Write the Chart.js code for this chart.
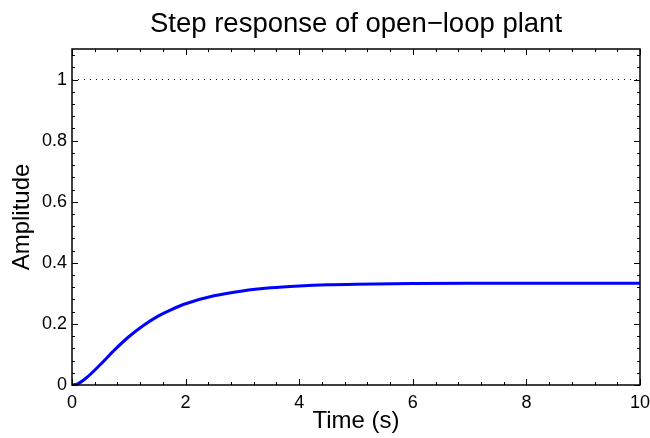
<!DOCTYPE html>
<html>
<head>
<meta charset="utf-8">
<script src="https://cdn.jsdelivr.net/npm/chart.js@4"></script>
<style>
    body { margin: 0; background: #fff; }
    canvas { display: block; }
</style>
</head>
<body>
<canvas id="step-chart" width="650" height="438"></canvas>
<script>
// Values
const timeValues = [0, 0.1, 0.25, 0.5, 0.75, 1, 1.25, 1.5, 1.75, 2, 2.5, 3, 3.5, 4, 4.5, 5, 6, 7, 8, 9, 10];
const amplitudeValues = [0, 0.004, 0.023, 0.067, 0.115, 0.158, 0.194, 0.224, 0.247, 0.266, 0.292, 0.308, 0.318, 0.324, 0.328, 0.330, 0.332, 0.333, 0.333, 0.333, 0.333];
const referenceTimes = [0, 10];
const referenceLevel = [1, 1];
const xTickValues = [0, 2, 4, 6, 8, 10];
const yTickValues = [0, 0.2, 0.4, 0.6, 0.8, 1];
const xMinorStep = 0.4;
const yMinorStep = 0.04;

const chartTitle = 'Step response of open\u2212loop plant';
const xAxisLabel = 'Time (s)';
const yAxisLabel = 'Amplitude';

const FONT = '"Liberation Sans", Arial, Helvetica, sans-serif';
Chart.defaults.font.family = FONT;
Chart.defaults.color = '#000';

// Box, inward ticks, title and axis labels in MATLAB style
const matlabFrame = {
    id: 'matlabFrame',
    afterDraw(chart) {
        const ctx = chart.ctx;
        const area = chart.chartArea;
        const xs = chart.scales.x;
        const ys = chart.scales.y;

        ctx.save();
        ctx.strokeStyle = '#000';
        ctx.lineWidth = 1;

        // minor + major ticks on x (bottom and top)
        for (let v = 0; v <= 10.0001; v += xMinorStep) {
            const px = Math.round(xs.getPixelForValue(v)) + 0.5;
            const isMajor = xTickValues.some(t => Math.abs(t - v) < 1e-6);
            const len = isMajor ? 6 : 3;
            ctx.beginPath();
            ctx.moveTo(px, area.bottom);
            ctx.lineTo(px, area.bottom - len);
            ctx.moveTo(px, area.top);
            ctx.lineTo(px, area.top + len);
            ctx.stroke();
        }
        // minor + major ticks on y (left and right)
        for (let v = 0; v <= 1.1001; v += yMinorStep) {
            const py = Math.round(ys.getPixelForValue(v)) + 0.5;
            const isMajor = yTickValues.some(t => Math.abs(t - v) < 1e-6);
            const len = isMajor ? 6 : 3;
            ctx.beginPath();
            ctx.moveTo(area.left, py);
            ctx.lineTo(area.left + len, py);
            ctx.moveTo(area.right, py);
            ctx.lineTo(area.right - len, py);
            ctx.stroke();
        }

        // frame
        ctx.lineWidth = 1.5;
        ctx.strokeRect(area.left, area.top, area.right - area.left, area.bottom - area.top);

        // title
        const cx = (area.left + area.right) / 2;
        ctx.fillStyle = '#000';
        ctx.textAlign = 'center';
        ctx.textBaseline = 'middle';
        ctx.font = '27.5px ' + FONT;
        ctx.fillText(chartTitle, cx, 24);

        // x label
        ctx.font = '24px ' + FONT;
        ctx.fillText(xAxisLabel, cx, 421);

        // y label
        ctx.translate(22, (area.top + area.bottom) / 2);
        ctx.rotate(-Math.PI / 2);
        ctx.fillText(yAxisLabel, 0, 0);
        ctx.restore();
    }
};

const ctx = document.getElementById('step-chart').getContext('2d');

new Chart(ctx, {
    type: 'line',
    data: {
        datasets: [
            {
                label: 'Step response',
                data: timeValues.map((t, i) => ({ x: t, y: amplitudeValues[i] })),
                borderColor: '#0000ff',
                borderWidth: 3,
                pointRadius: 0,
                cubicInterpolationMode: 'monotone',
                fill: false
            },
            {
                label: 'Final value',
                data: referenceTimes.map((t, i) => ({ x: t, y: referenceLevel[i] })),
                borderColor: '#000',
                borderWidth: 1,
                borderDash: [1, 5],
                pointRadius: 0,
                fill: false
            }
        ]
    },
    options: {
        responsive: false,
        animation: false,
        layout: {
            padding: { left: 0, top: 49, right: 10, bottom: 0 }
        },
        plugins: {
            legend: { display: false },
            tooltip: { enabled: false }
        },
        scales: {
            x: {
                type: 'linear',
                min: 0,
                max: 10,
                grid: { display: false, drawTicks: false },
                border: { display: false },
                afterBuildTicks: scale => {
                    scale.ticks = xTickValues.map(v => ({ value: v }));
                },
                afterFit: scale => {
                    scale.height = 53;
                    scale.paddingLeft = 0;
                    scale.paddingRight = 0;
                },
                ticks: {
                    padding: 7,
                    maxRotation: 0,
                    font: { size: 18 },
                    color: '#000'
                }
            },
            y: {
                type: 'linear',
                min: 0,
                max: 1.1,
                grid: { display: false, drawTicks: false },
                border: { display: false },
                afterBuildTicks: scale => {
                    scale.ticks = yTickValues.map(v => ({ value: v }));
                },
                afterFit: scale => {
                    scale.width = 72;
                    scale.paddingTop = 0;
                    scale.paddingBottom = 0;
                },
                ticks: {
                    padding: 5,
                    font: { size: 18 },
                    color: '#000',
                    callback: v => String(Math.round(v * 10) / 10)
                }
            }
        }
    },
    plugins: [matlabFrame]
});
</script>
</body>
</html>
